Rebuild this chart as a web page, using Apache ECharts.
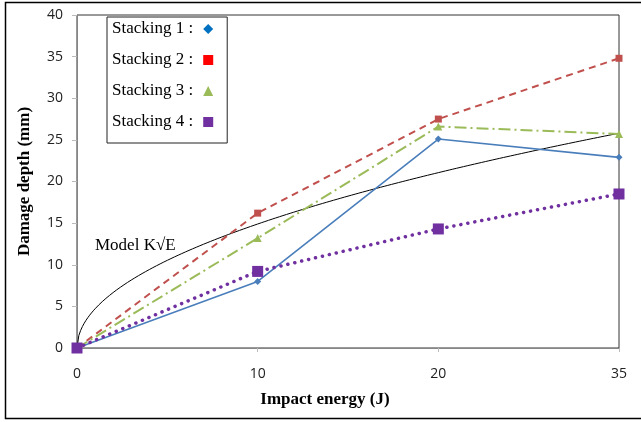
<!DOCTYPE html>
<html>
<head>
<meta charset="utf-8">
<script src="https://cdn.jsdelivr.net/npm/echarts@6/dist/echarts.min.js"></script>
<style>html,body{margin:0;padding:0;background:#fff}#c{width:641px;height:422px}</style>
</head>
<body>
<div id="c"></div>
<script>
// Impact energies (J) shown as equally spaced tick labels
const energyLabels = ['0', '10', '20', '35'];
const stacking1 = [0, 8.0, 25.1, 22.9];
const stacking2 = [0, 16.2, 27.5, 34.8];
const stacking3 = [0, 13.2, 26.6, 25.7];
const stacking4 = [0, 9.2, 14.3, 18.5];
const modelK = 4.71; // Model K*sqrt(E) drawn against axis position
const seriesNames = ['Stacking 1 :', 'Stacking 2 :', 'Stacking 3 :', 'Stacking 4 :'];

const STEP = 10; // axis position spacing between categories
const toPoints = arr => arr.map((v, i) => [i * STEP, v]);
const modelPts = [];
const maxPos = (energyLabels.length - 1) * STEP;
for (let p = 0; p <= maxPos + 1e-9; p += 0.1) modelPts.push([p, modelK * Math.sqrt(p)]);

const serif = 'Liberation Serif, Times New Roman, serif';
const sans = 'Open Sans, Liberation Sans, sans-serif';

const chart = echarts.init(document.getElementById('c'), null, {renderer: 'canvas'});
chart.setOption({
  animation: false,
  backgroundColor: '#fff',
  grid: {left: 77, top: 15, right: 22, bottom: 74, show: true, borderColor: '#333', borderWidth: 1},
  legend: {
    orient: 'vertical', left: 107, top: 17, align: 'right',
    itemWidth: 10, itemHeight: 10, itemGap: 13,
    padding: [3, 14, 12, 5],
    borderColor: '#222', borderWidth: 1,
    textStyle: {fontFamily: serif, fontSize: 17, color: '#000', lineHeight: 18, padding: [0, 5, 0, 0]},
    data: [
      {name: seriesNames[0], icon: 'diamond', itemStyle: {color: '#0070C0'}},
      {name: seriesNames[1], icon: 'rect', itemStyle: {color: '#FF0000'}},
      {name: seriesNames[2], icon: 'triangle', itemStyle: {color: '#9BBB59'}},
      {name: seriesNames[3], icon: 'rect', itemStyle: {color: '#7030A0'}}
    ]
  },
  xAxis: {
    type: 'value', min: 0, max: maxPos, interval: STEP,
    splitLine: {show: false},
    axisLine: {lineStyle: {color: '#868686'}},
    axisTick: {show: true, length: 4, lineStyle: {color: '#bbb'}},
    axisLabel: {margin: 19, fontFamily: sans, fontSize: 14, color: '#222',
      formatter: v => energyLabels[Math.round(v / STEP)] ?? ''}
  },
  yAxis: {
    type: 'value', min: 0, max: 40, interval: 5,
    splitLine: {show: false},
    axisLine: {show: true, lineStyle: {color: '#868686'}},
    axisTick: {show: true, length: 5, lineStyle: {color: '#bbb'}},
    axisLabel: {margin: 14, fontFamily: sans, fontSize: 14, color: '#222'},
    name: 'Damage depth (mm)', nameLocation: 'middle', nameGap: 44,
    nameTextStyle: {fontFamily: serif, fontSize: 17, fontWeight: 'bold', color: '#000'}
  },
  series: [
    {name: 'Model', type: 'line', data: modelPts, showSymbol: false, smooth: false,
     lineStyle: {color: '#000', width: 1}, z: 1},
    {name: seriesNames[0], type: 'line', data: toPoints(stacking1), symbol: 'diamond', symbolSize: 7,
     lineStyle: {color: '#4A7EBB', width: 1.6}, itemStyle: {color: '#4A7EBB'}},
    {name: seriesNames[1], type: 'line', data: toPoints(stacking2), symbol: 'rect', symbolSize: 7,
     lineStyle: {color: '#C0504D', width: 2, type: [7, 5]}, itemStyle: {color: '#C0504D'}},
    {name: seriesNames[2], type: 'line', data: toPoints(stacking3), symbol: 'triangle', symbolSize: 8,
     lineStyle: {color: '#9BBB59', width: 2, type: [12, 4, 2, 4]}, itemStyle: {color: '#9BBB59'}},
    {name: seriesNames[3], type: 'line', data: toPoints(stacking4), symbol: 'rect', symbolSize: 11,
     lineStyle: {color: '#7030A0', width: 3.5, type: [0.1, 7], cap: 'round'}, itemStyle: {color: '#7030A0'}}
  ],
  graphic: [
    {type: 'text', left: 95, top: 237, style: {text: 'Model K√E', font: '17px ' + serif, fill: '#000'}},
    {type: 'text', x: 325, y: 400, style: {text: 'Impact energy (J)', font: 'bold 17px ' + serif, fill: '#000',
      align: 'center', verticalAlign: 'middle'}},
    {type: 'polyline', shape: {points: [[645, 2.5], [5.5, 2.5], [5.5, 418.5], [645, 418.5]]},
     style: {stroke: '#000', lineWidth: 1.5, fill: null}, silent: true}
  ]
});
</script>
</body>
</html>
